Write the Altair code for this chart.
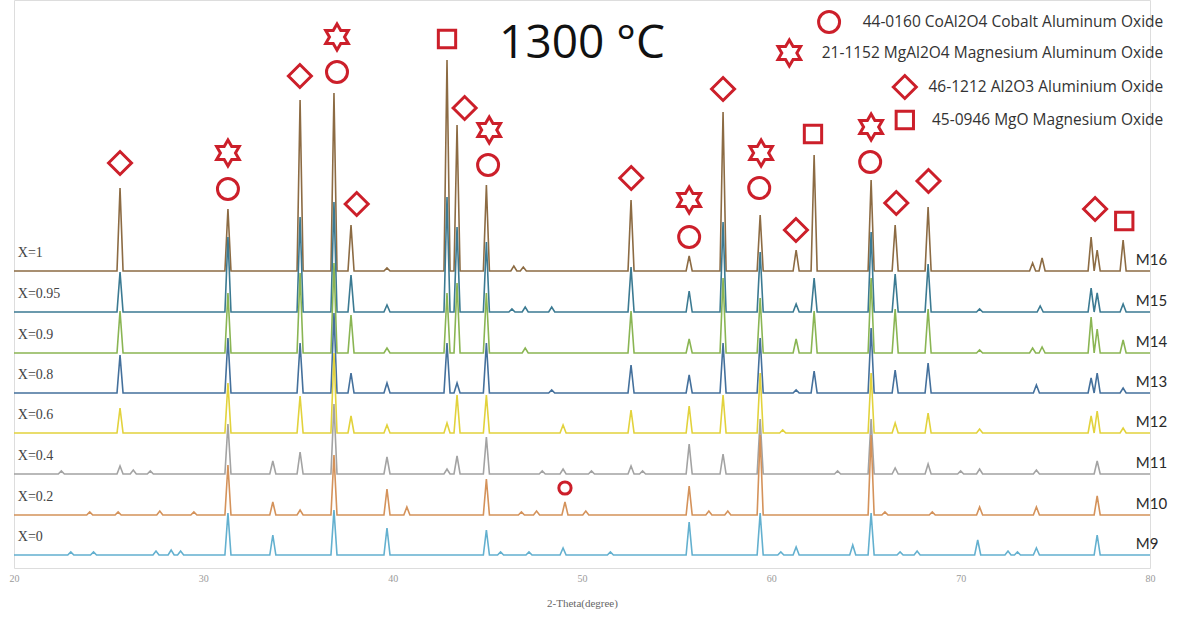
import altair as alt
import pandas as pd

# ---------------- data ----------------
SAMPLES = ["M16", "M15", "M14", "M13", "M12", "M11", "M10", "M9"]
X_LABELS = ["X=1", "X=0.95", "X=0.9", "X=0.8", "X=0.6", "X=0.4", "X=0.2", "X=0"]
OFFSETS = [297, 256, 215, 175, 135, 94, 53, 13]          # stacking offset of each pattern (a.u.)
COLORS = ["#8c6b43", "#3b7a92", "#8ab553", "#44709c", "#e2d23c", "#a3a3a3", "#d4925a", "#63b0cf"]

# (2-theta, peak height above the pattern baseline)
PEAKS_M16 = [(25.60, 83), (31.30, 62), (35.11, 171), (36.90, 178), (37.80, 46), (39.70, 3),
             (42.87, 211), (43.40, 146), (44.95, 86), (46.40, 5), (46.90, 4), (52.59, 71),
             (55.66, 15), (57.45, 159), (59.41, 56), (61.31, 21), (62.26, 116), (65.27, 91),
             (66.54, 46), (68.28, 64), (73.80, 8), (74.30, 13), (76.89, 34), (77.21, 21), (78.58, 31)]
PEAKS_M15 = [(25.60, 40), (31.30, 75), (35.11, 95), (36.90, 110), (37.80, 37), (39.70, 7),
             (42.87, 115), (43.40, 85), (44.95, 70), (46.30, 3), (47.00, 5), (48.40, 5), (52.59, 45),
             (55.66, 21), (57.45, 90), (59.41, 60), (61.31, 8), (62.26, 34), (65.27, 80),
             (66.54, 38), (68.28, 48), (71.00, 3), (74.20, 6), (76.89, 24), (77.21, 19), (78.58, 8)]
PEAKS_M14 = [(25.60, 42), (31.30, 60), (35.11, 80), (36.90, 90), (37.80, 38), (39.70, 5),
             (42.87, 60), (43.40, 70), (44.95, 60), (47.00, 5), (52.59, 42),
             (55.66, 14), (57.45, 75), (59.41, 55), (61.31, 14), (62.26, 42), (65.27, 75),
             (66.54, 44), (68.28, 44), (71.00, 3), (73.80, 5), (74.30, 6), (76.89, 36), (77.21, 24), (78.58, 13)]
PEAKS_M13 = [(25.60, 38), (31.30, 55), (35.11, 50), (36.90, 80), (37.80, 20), (39.70, 10),
             (42.87, 50), (43.40, 10), (44.95, 50), (48.40, 3), (52.59, 28),
             (55.66, 18), (57.45, 50), (59.41, 55), (61.31, 3), (62.26, 22), (65.27, 65),
             (66.54, 23), (68.28, 30), (74.00, 8), (76.89, 15), (77.21, 20), (78.58, 5)]
PEAKS_M12 = [(25.60, 25), (31.30, 50), (35.11, 37), (36.90, 80), (37.80, 17), (39.70, 8),
             (42.87, 10), (43.40, 38), (44.95, 38), (49.00, 8), (52.59, 23),
             (55.66, 27), (57.45, 38), (59.41, 60), (60.60, 3), (65.27, 60),
             (66.54, 10), (68.28, 20), (71.00, 4), (76.89, 17), (77.21, 22), (78.58, 5)]
PEAKS_M11 = [(22.50, 3), (25.60, 8), (26.30, 4), (27.20, 3), (31.30, 50), (33.67, 13), (35.11, 22),
             (36.90, 70), (39.70, 17), (42.87, 5), (43.40, 18), (44.95, 37), (47.90, 3), (49.00, 5),
             (50.50, 3), (52.59, 8), (53.20, 3), (55.66, 30), (57.45, 20), (59.41, 55), (63.50, 3),
             (65.27, 55), (66.54, 6), (68.28, 10), (70.00, 3), (71.00, 5), (74.00, 4), (77.21, 13)]
PEAKS_M10 = [(24.00, 3), (25.50, 3), (27.70, 4), (29.50, 3), (31.30, 50), (33.67, 13), (35.11, 5),
             (36.90, 60), (39.70, 26), (40.75, 8), (44.95, 36), (46.80, 3), (47.60, 4), (49.10, 13),
             (50.20, 4), (55.66, 29), (56.70, 4), (57.70, 4), (59.41, 80), (65.27, 80), (66.00, 3),
             (68.50, 3), (71.00, 8), (74.00, 8), (77.21, 19)]
PEAKS_M9 = [(23.00, 3), (24.20, 3), (27.50, 4), (28.30, 5), (28.80, 4), (31.30, 42), (33.67, 20),
            (36.90, 45), (39.70, 27), (44.95, 25), (45.70, 3), (47.20, 3), (49.00, 7), (51.50, 3),
            (55.66, 33), (59.41, 42), (60.50, 3), (61.31, 8), (64.30, 10), (65.27, 42), (66.80, 3),
            (67.70, 4), (70.90, 15), (72.50, 4), (73.00, 3), (74.00, 7), (77.21, 20)]
PEAKS = [PEAKS_M16, PEAKS_M15, PEAKS_M14, PEAKS_M13, PEAKS_M12, PEAKS_M11, PEAKS_M10, PEAKS_M9]

# phase identification markers (2-theta, level)
KINDS = ["44-0160 CoAl2O4 Cobalt Aluminum Oxide",
         "21-1152 MgAl2O4 Magnesium Aluminum Oxide",
         "46-1212 Al2O3 Aluminium Oxide",
         "45-0946 MgO Magnesium Oxide"]
CIRCLE_X = [31.30, 37.06, 45.04, 55.66, 59.36, 65.22]
CIRCLE_V = [379, 496, 403, 331, 380, 406]
STAR_X = [31.30, 37.06, 45.10, 55.66, 59.46, 65.27]
STAR_V = [415, 531, 438, 368, 415, 441]
DIAMOND_X = [25.60, 35.10, 38.10, 43.80, 52.60, 57.45, 61.30, 66.60, 68.30, 77.10]
DIAMOND_V = [405, 492, 364, 460, 390, 479, 338, 365, 387, 359]
SQUARE_X = [42.87, 62.20, 78.64]
SQUARE_V = [529, 434, 347]
MINOR_CIRCLE_X = [49.10]
MINOR_CIRCLE_V = [80]

# key (legend) rows, in the same units as the plot
KEY_SYMBOL_X = [63.05, 60.95, 67.05, 67.05]
KEY_TEXT_X = [80.70, 80.70, 80.70, 80.70]
KEY_V = [546, 515, 481, 448]

X_TICKS = [20, 30, 40, 50, 60, 70, 80]

# ---------------- build tables ----------------
HW = 0.16  # half base width of a drawn peak (deg)
RED = "#cc1f2a"
STAR = ("M0,-1L0.2887,-0.5L0.866,-0.5L0.577,0L0.866,0.5L0.2887,0.5L0,1L-0.2887,0.5"
        "L-0.866,0.5L-0.577,0L-0.866,-0.5L-0.2887,-0.5Z")
SHAPES = ["circle", STAR, "diamond", "square"]
SIZES = [441, 680, 529, 300]

xscale = alt.Scale(domain=[20, 80], nice=False, zero=False)
yscale = alt.Scale(domain=[0, 568], nice=False, zero=False)
shape_scale = alt.Scale(domain=KINDS, range=SHAPES)
size_scale = alt.Scale(type="ordinal", domain=KINDS, range=SIZES)
xaxis = alt.Axis(values=X_TICKS, format="d", title="2-Theta(degree)", labelFlush=False,
                 domain=False, ticks=False, grid=False, labelFont="Liberation Serif",
                 labelFontSize=10, labelColor="#9a9a9a", labelPadding=5,
                 titleFont="Liberation Serif", titleFontSize=11, titleFontWeight="normal",
                 titleColor="#666666", titlePadding=14)

layers = []
for name, off, peaks, col in zip(SAMPLES, OFFSETS, PEAKS, COLORS):
    pts = [(20.0, off)]
    for c, h in sorted(peaks):
        pts += [(c - HW, off), (c, off + h), (c + HW, off)]
    pts.append((80.0, off))
    df = pd.DataFrame({"x": [p[0] for p in pts], "v": [p[1] for p in pts],
                       "i": list(range(len(pts)))})
    layers.append(
        alt.Chart(df).mark_line(color=col, strokeWidth=1.6).encode(
            x=alt.X("x:Q", scale=xscale, axis=xaxis),
            y=alt.Y("v:Q", scale=yscale, axis=None),
            order="i:Q",
        )
    )

left_df = pd.DataFrame({"x": [20.2] * len(X_LABELS), "v": [o + 18 for o in OFFSETS], "t": X_LABELS})
right_df = pd.DataFrame({"x": [79.25] * len(SAMPLES), "v": [o + 11 for o in OFFSETS], "t": SAMPLES})

left_txt = alt.Chart(left_df).mark_text(align="left", baseline="middle", font="Liberation Serif",
                                        fontSize=14, color="#444444").encode(
    x=alt.X("x:Q", scale=xscale), y=alt.Y("v:Q", scale=yscale), text="t:N")
right_txt = alt.Chart(right_df).mark_text(align="left", baseline="middle", font="Lato",
                                          fontSize=15, color="#2a2a2a").encode(
    x=alt.X("x:Q", scale=xscale), y=alt.Y("v:Q", scale=yscale), text="t:N")

mk = pd.DataFrame({
    "x": CIRCLE_X + STAR_X + DIAMOND_X + SQUARE_X,
    "v": CIRCLE_V + STAR_V + DIAMOND_V + SQUARE_V,
    "kind": [KINDS[0]] * len(CIRCLE_X) + [KINDS[1]] * len(STAR_X)
            + [KINDS[2]] * len(DIAMOND_X) + [KINDS[3]] * len(SQUARE_X),
})
markers = alt.Chart(mk).mark_point(filled=False, color=RED, strokeWidth=3, opacity=1).encode(
    x=alt.X("x:Q", scale=xscale),
    y=alt.Y("v:Q", scale=yscale),
    shape=alt.Shape("kind:N", scale=shape_scale, legend=None),
    size=alt.Size("kind:N", scale=size_scale, legend=None),
)
minor = alt.Chart(pd.DataFrame({"x": MINOR_CIRCLE_X, "v": MINOR_CIRCLE_V})).mark_point(
    filled=False, color=RED, strokeWidth=3, opacity=1, shape="circle", size=150).encode(
    x=alt.X("x:Q", scale=xscale), y=alt.Y("v:Q", scale=yscale))

key_df = pd.DataFrame({"sx": KEY_SYMBOL_X, "tx": KEY_TEXT_X, "v": KEY_V, "kind": KINDS})
key_sym = alt.Chart(key_df).mark_point(filled=False, color=RED, strokeWidth=3, opacity=1).encode(
    x=alt.X("sx:Q", scale=xscale), y=alt.Y("v:Q", scale=yscale),
    shape=alt.Shape("kind:N", scale=shape_scale, legend=None),
    size=alt.Size("kind:N", scale=size_scale, legend=None),
)
key_txt = alt.Chart(key_df).mark_text(align="right", baseline="middle", font="Open Sans",
                                      fontSize=15.5, color="#333333").encode(
    x=alt.X("tx:Q", scale=xscale), y=alt.Y("v:Q", scale=yscale), text="kind:N")

chart = alt.layer(*layers, left_txt, right_txt, markers, minor, key_sym, key_txt).properties(
    width=1136, height=568,
    autosize=alt.AutoSizeParams(type="none"),
    padding={"left": 14, "top": 0, "right": 32, "bottom": 50},
    title=alt.TitleParams("1300 °C", fontSize=46, font="Open Sans", fontWeight="normal",
                          color="#111111", anchor="middle", offset=0, dy=104, baseline="alphabetic"),
).configure_view(stroke=None).configure(background="white")

chart.save("out.html", embed_options={"renderer": "svg", "actions": False})
